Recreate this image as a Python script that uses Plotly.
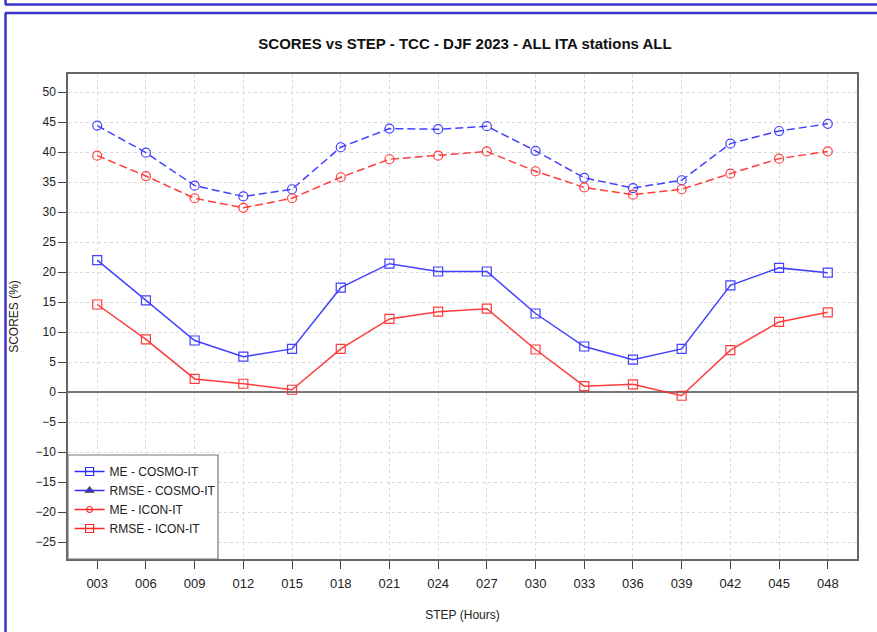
import plotly.graph_objects as go

steps = ["003", "006", "009", "012", "015", "018", "021", "024",
         "027", "030", "033", "036", "039", "042", "045", "048"]

me_cosmo = [22.0, 15.3, 8.6, 5.9, 7.2, 17.4, 21.4, 20.1,
            20.1, 13.1, 7.6, 5.4, 7.2, 17.8, 20.7, 19.9]
rmse_cosmo = [44.4, 39.9, 34.4, 32.6, 33.8, 40.8, 43.9, 43.8,
              44.3, 40.2, 35.7, 34.0, 35.3, 41.4, 43.5, 44.7]
me_icon = [14.6, 8.8, 2.2, 1.4, 0.4, 7.2, 12.2, 13.4,
           13.9, 7.1, 1.0, 1.3, -0.6, 7.0, 11.7, 13.3]
rmse_icon = [39.4, 36.0, 32.3, 30.7, 32.3, 35.8, 38.8, 39.4,
             40.1, 36.8, 34.1, 32.9, 33.8, 36.4, 38.9, 40.1]

y_ticks = list(range(-25, 55, 5))

BLUE = "rgb(45,45,255)"
RED = "rgb(255,40,40)"
FONT = "Liberation Sans, Arial, sans-serif"

# plot box in pixels (for placing frame shapes)
L, R, T, B = 68, 857, 74, 559
W, H = 877, 632


def px(x):
    return (x - L) / (R - L)


def py(y):
    return (B - y) / (B - T)


fig = go.Figure()

series = [
    (rmse_cosmo, BLUE, "8px,4px", "circle-open"),
    (rmse_icon, RED, "8px,4px", "circle-open"),
    (me_cosmo, BLUE, "solid", "square-open"),
    (me_icon, RED, "solid", "square-open"),
]
for vals, col, dash, sym in series:
    fig.add_trace(go.Scatter(
        x=steps, y=vals, mode="lines+markers", showlegend=False,
        line=dict(color=col, width=1.5, dash=dash),
        marker=dict(symbol=sym, size=9, color=col, line=dict(width=1.2)),
        opacity=0.9,
    ))

# legend entries (as in the original figure)
legend_items = [
    ("ME - COSMO-IT", BLUE, "square-open", 8),
    ("RMSE - COSMO-IT", BLUE, "triangle-up", 7),
    ("ME - ICON-IT", RED, "circle-open", 6),
    ("RMSE - ICON-IT", RED, "square-open", 8),
]
for name, col, sym, sz in legend_items:
    fig.add_trace(go.Scatter(
        x=[None], y=[None], mode="lines+markers", name=name,
        line=dict(color=col, width=1.5),
        marker=dict(symbol=sym, size=sz, color=col, line=dict(width=1.2)),
    ))

shapes = [
    # legend box
    dict(type="rect", xref="paper", yref="paper", x0=0, x1=px(218),
         y0=0, y1=py(455), fillcolor="white",
         line=dict(color="#777777", width=1.2), layer="above"),
    # outer blue frames
    dict(type="line", xref="paper", yref="paper", x0=px(5), x1=px(900),
         y0=py(4.5), y1=py(4.5), line=dict(color="#3434c8", width=2.5)),
    dict(type="line", xref="paper", yref="paper", x0=px(5.5), x1=px(5.5),
         y0=py(4.5), y1=py(-10), line=dict(color="#3434c8", width=2.5)),
    dict(type="line", xref="paper", yref="paper", x0=px(5), x1=px(900),
         y0=py(13), y1=py(13), line=dict(color="#3434c8", width=2.5)),
    dict(type="line", xref="paper", yref="paper", x0=px(5.5), x1=px(5.5),
         y0=py(13), y1=py(650), line=dict(color="#3434c8", width=2.5)),
]

fig.update_layout(
    width=W, height=H,
    margin=dict(l=L, r=W - R, t=T, b=H - B),
    paper_bgcolor="white", plot_bgcolor="white",
    font=dict(family=FONT, size=12, color="#222222"),
    title=dict(text="<b>SCORES vs STEP - TCC - DJF 2023 - ALL ITA stations ALL</b>",
               x=px(465), xref="paper", xanchor="center",
               y=1 - 44 / H, yanchor="middle",
               font=dict(size=15, color="#111111")),
    shapes=shapes,
    legend=dict(x=0.002, y=py(457), xanchor="left", yanchor="top",
                bgcolor="rgba(0,0,0,0)", borderwidth=0,
                font=dict(size=12, color="#222222"),
                tracegroupgap=0, itemwidth=30),
    showlegend=True,
)

fig.update_xaxes(
    type="category", range=[-0.6, 15.6],
    title=dict(text="STEP (Hours)", font=dict(size=12), standoff=20),
    showgrid=True, gridcolor="#d8d8d8", griddash="dot", gridwidth=1,
    showline=True, linecolor="#666666", linewidth=1.5, mirror=True,
    ticks="outside", ticklen=8, tickcolor="#444444",
    tickfont=dict(size=13), ticklabelstandoff=4,
)
fig.update_yaxes(
    range=[-27.8, 53], tickvals=y_ticks,
    title=dict(text="SCORES (%)", font=dict(size=12), standoff=14),
    showgrid=True, gridcolor="#d8d8d8", griddash="dot", gridwidth=1,
    zeroline=True, zerolinecolor="#777777", zerolinewidth=1.5,
    showline=True, linecolor="#666666", linewidth=1.5, mirror=True,
    ticks="outside", ticklen=8, tickcolor="#444444",
    tickfont=dict(size=12),
)

# drop the browser's default page margin so the figure sits at (0, 0)
fig.write_html("out.html", config={"displayModeBar": False},
               post_script="document.body.style.margin='0';")
